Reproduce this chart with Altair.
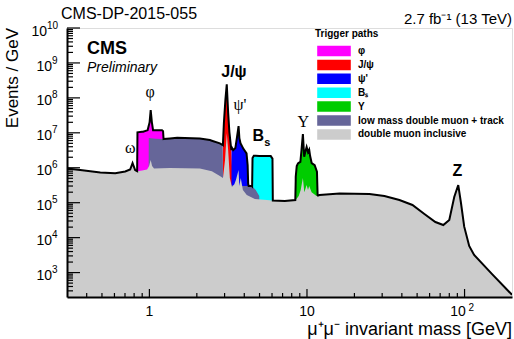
import altair as alt
import numpy as np
import pandas as pd

# ---- dimuon spectra: mass [GeV] and events / GeV per trigger path ----
incl_mass = [0.30, 0.364, 0.488, 0.607, 0.702, 0.755, 0.782, 0.812, 0.836, 0.899, 0.967, 0.996,
             1.019, 1.04, 1.07, 1.35, 2.09, 2.49, 2.80, 2.93, 3.02, 3.097, 3.16, 3.24, 3.34, 3.46,
             3.54, 3.68, 3.72, 3.80, 3.92, 4.15, 4.67, 6.07, 7.23, 8.48, 8.86, 9.12, 9.42, 9.62,
             9.95, 10.15, 10.33, 10.7, 11.5, 12.0, 16.1, 24.9, 31.0, 38.6, 46.7, 55.6, 65.3, 73.3,
             80.0, 86.0, 91.2, 94.9, 99.5, 107.0, 115.0, 149.0, 200.0]
incl_evt = [9.5e5, 8.6e5, 7.3e5, 7.0e5, 7.8e5, 8.9e5, 1.36e6, 8.6e5, 8.0e5, 8.3e5, 8.9e5, 1.12e6,
            1.66e6, 1.12e6, 9.5e5, 9.8e5, 9.5e5, 8.0e5, 5.8e5, 5.1e5, 1.66e6, 9.8e6, 3.2e6, 5.1e5,
            2.8e5, 3.4e5, 4.5e5, 8.6e5, 3.0e5, 5.1e5, 2.3e5, 1.66e5, 1.28e5, 1.16e5, 1.12e5, 1.19e5,
            1.55e5, 2.3e5, 5.1e5, 2.0e5, 3.2e5, 2.3e5, 3.0e5, 2.0e5, 1.55e5, 1.66e5, 1.83e5, 1.77e5,
            1.55e5, 1.19e5, 8.6e4, 4.75e4, 2.8e4, 2.3e4, 3.2e4, 1.46e5, 3.2e5, 9.8e4, 2.06e4, 5.8e3,
            3.2e3, 918, 231]

lowmass_mass = [0.984, 0.991, 1.09, 1.23, 1.50, 2.09, 2.42, 2.80, 2.92, 2.936, 3.97, 4.47, 4.73, 4.98, 5.01]
lowmass_evt = [1e4, 7.06e6, 6.8e6, 6.6e6, 7.2e6, 6.9e6, 6.2e6, 5.0e6, 4.5e6, 3.2e5, 3.0e5, 3.0e5, 2.3e5, 1.55e5, 1e4]

phi_mass = [0.834, 0.840, 0.912, 0.974, 1.003, 1.019, 1.037, 1.055, 1.203, 1.221, 1.231]
phi_evt = [1e4, 1.03e7, 1.08e7, 1.19e7, 2.0e7, 4.45e7, 2.0e7, 1.19e7, 1.19e7, 1.12e7, 1e4]

jpsi_mass = [2.906, 2.927, 2.97, 3.035, 3.097, 3.162, 3.218, 3.289, 3.314, 3.378, 3.396]
jpsi_evt = [1e4, 4.46e6, 1.89e7, 8.6e7, 2.46e8, 3.66e7, 1.05e7, 4.17e6, 3.2e6, 3.2e5, 1e4]

psi2_mass = [3.308, 3.323, 3.402, 3.512, 3.589, 3.68, 3.724, 3.789, 3.936, 4.135, 4.202, 4.233, 4.263]
psi2_evt = [1e4, 3.9e6, 3.2e6, 3.66e6, 7.06e6, 1.55e7, 7.06e6, 4.98e6, 3.58e6, 2.58e6, 1.19e6, 3.58e5, 1e4]

bs_mass = [4.487, 4.513, 4.60, 5.89, 6.04, 6.07]
bs_evt = [1e4, 1.89e6, 2.2e6, 2.16e6, 1.83e6, 1e4]

ups_mass = [8.43, 8.484, 8.61, 8.77, 9.08, 9.23, 9.42, 9.60, 9.75, 9.95, 10.15, 10.33, 10.47, 10.71,
            11.19, 11.57, 11.68, 11.74]
ups_evt = [1e4, 5.53e5, 1.12e6, 1.34e6, 1.48e6, 3.2e6, 9.2e6, 2.06e6, 2.81e6, 3.9e6, 2.81e6, 3.3e6,
           2.16e6, 1.36e6, 1.19e6, 7.7e5, 1.66e5, 1e4]

series_names = ["φ", "J/ψ", "ψ'", "Bₛ", "Υ", "low mass double muon + track", "double muon inclusive"]
series_colors = ["#ff00ff", "#ff0000", "#0000ff", "#00ffff", "#00cc00", "#666699", "#cccccc"]

# resonance annotations (mass, events / GeV)
greek_text = ["ω", "φ", "ψ'", "Υ"]
greek_mass = [0.755, 1.01, 3.75, 9.46]
greek_evt = [3.66e6, 1.46e8, 6.17e7, 2.02e7]

bold_text = ["J/ψ", "B", "Z"]
bold_mass = [3.44, 4.91, 89.9]
bold_evt = [5.4e8, 8.06e6, 8.05e5]

sub_text = ["s"]
sub_mass = [5.6]
sub_evt = [5.08e6]

# axis ticks and labels
y_decades = [3, 4, 5, 6, 7, 8, 9, 10]
x_major = [1, 10, 100]
x_minor = [0.4, 0.5, 0.6, 0.7, 0.8, 0.9, 2, 3, 4, 5, 6, 7, 8, 9, 20, 30, 40, 50, 60, 70, 80, 90]

Y_MIN = 200
W, H = 445, 269
SANS = "Liberation Sans"
SERIF = "Liberation Serif"

xs = alt.Scale(type="log", domain=[0.3, 200], nice=False)
ys = alt.Scale(type="log", domain=[Y_MIN, 1e10], nice=False)
x_axis = alt.Axis(labels=False, ticks=False, grid=False, title=None, domain=True,
                  domainColor="black", domainWidth=2, zindex=1)
y_axis = alt.Axis(labels=False, ticks=False, grid=False, title=None, domain=True,
                  domainColor="black", domainWidth=2, zindex=1)

color = alt.Color(
    "series:N",
    scale=alt.Scale(domain=series_names, range=series_colors),
    legend=alt.Legend(
        orient="none", legendX=248, legendY=1, title="Trigger paths",
        titleFont=SANS, titleFontSize=10, titleFontWeight="bold", titleColor="black",
        titlePadding=5, labelFont=SANS, labelFontSize=10, labelFontWeight="bold",
        labelColor="black", labelLimit=300,
        symbolType="M-2.4,-0.75H2.4V0.75H-2.4Z", symbolSize=196, symbolStrokeWidth=0,
        symbolOffset=12, labelOffset=17, rowPadding=0.9, padding=0,
    ),
)

spectra = [(phi_mass, phi_evt), (jpsi_mass, jpsi_evt), (psi2_mass, psi2_evt), (bs_mass, bs_evt),
           (ups_mass, ups_evt), (lowmass_mass, lowmass_evt), (incl_mass, incl_evt)]

layers = []
for (m, v), name in zip(spectra, series_names):
    df = pd.DataFrame({"mass": m, "evt": v, "base": Y_MIN, "series": name})
    layers.append(
        alt.Chart(df).mark_area(clip=True, opacity=1).encode(
            x=alt.X("mass:Q", scale=xs, axis=x_axis),
            y=alt.Y("evt:Q", scale=ys, axis=y_axis, stack=None),
            y2=alt.Y2("base:Q"),
            color=color,
        )
    )

# upper envelope of all paths (the black outline)
grid = np.unique(np.concatenate([np.log10(m) for m, _ in spectra]))
env = np.full(grid.shape, -np.inf)
for m, v in spectra:
    env = np.maximum(env, np.interp(grid, np.log10(m), np.log10(v), left=-np.inf, right=-np.inf))
env_df = pd.DataFrame({"mass": 10 ** grid, "evt": 10 ** env})
layers.append(
    alt.Chart(env_df).mark_line(color="black", strokeWidth=2, clip=True).encode(
        x=alt.X("mass:Q", scale=xs), y=alt.Y("evt:Q", scale=ys)
    )
)

# inward ticks
y_major = [10.0 ** d for d in y_decades]
y_minor = [k * 10.0 ** d for d in range(2, 10) for k in range(2, 10) if 300 <= k * 10.0 ** d < 1e10]
layers += [
    alt.Chart(pd.DataFrame({"v": y_major})).mark_rule(color="black", strokeWidth=1.2).encode(
        y=alt.Y("v:Q", scale=ys), x=alt.value(0), x2=alt.value(13)),
    alt.Chart(pd.DataFrame({"v": y_minor})).mark_rule(color="black", strokeWidth=1.2).encode(
        y=alt.Y("v:Q", scale=ys), x=alt.value(0), x2=alt.value(6)),
    alt.Chart(pd.DataFrame({"v": x_major})).mark_rule(color="black", strokeWidth=1.2).encode(
        x=alt.X("v:Q", scale=xs), y=alt.value(H), y2=alt.value(H - 8)),
    alt.Chart(pd.DataFrame({"v": x_minor})).mark_rule(color="black", strokeWidth=1.2).encode(
        x=alt.X("v:Q", scale=xs), y=alt.value(H), y2=alt.value(H - 4)),
]

# y tick labels: "10" with a raised exponent
ylab = pd.DataFrame({"v": [10.0 ** d for d in y_decades], "exp": [str(d) for d in y_decades]})
ylab["wide"] = ylab["exp"].str.len() > 1
for wide, xpos in [(False, -15), (True, -20)]:
    sub = ylab[ylab["wide"] == wide]
    layers += [
        alt.Chart(sub).mark_text(font=SANS, fontSize=14, align="right", baseline="middle", dy=3.6,
                                 color="black").encode(
            y=alt.Y("v:Q", scale=ys), x=alt.value(xpos), text=alt.value("10")),
        alt.Chart(sub).mark_text(font=SANS, fontSize=10, align="left", baseline="middle", dy=-2.4,
                                 color="black").encode(
            y=alt.Y("v:Q", scale=ys), x=alt.value(xpos), text="exp:N"),
    ]

# x tick labels
xlab = pd.DataFrame({"v": x_major, "txt": ["1", "10", "10"], "exp": ["", "", "2"]})
layers += [
    alt.Chart(xlab[xlab["exp"] == ""]).mark_text(font=SANS, fontSize=14, align="center",
                                                 baseline="middle", color="black").encode(
        x=alt.X("v:Q", scale=xs), y=alt.value(H + 15), text="txt:N"),
    alt.Chart(xlab[xlab["exp"] != ""]).mark_text(font=SANS, fontSize=14, align="center", dx=-6.5,
                                                 baseline="middle", color="black").encode(
        x=alt.X("v:Q", scale=xs), y=alt.value(H + 15), text="txt:N"),
    alt.Chart(xlab[xlab["exp"] != ""]).mark_text(font=SANS, fontSize=10, align="left", dx=4,
                                                 baseline="middle", color="black").encode(
        x=alt.X("v:Q", scale=xs), y=alt.value(H + 11), text="exp:N"),
]

# resonance names
def notes(texts, masses, evts, **style):
    df = pd.DataFrame({"t": texts, "mass": masses, "evt": evts})
    return alt.Chart(df).mark_text(align="center", baseline="middle", color="black", **style).encode(
        x=alt.X("mass:Q", scale=xs), y=alt.Y("evt:Q", scale=ys), text="t:N")

layers += [
    notes(greek_text, greek_mass, greek_evt, font=SERIF, fontSize=16),
    notes(bold_text, bold_mass, bold_evt, font=SANS, fontSize=16, fontWeight="bold"),
    notes(sub_text, sub_mass, sub_evt, font=SANS, fontSize=11, fontWeight="bold"),
]

# titles and header text
def label(txt, x, y, **style):
    return alt.Chart(pd.DataFrame({"t": [txt]})).mark_text(color="black", baseline="middle", **style).encode(
        x=alt.value(x), y=alt.value(y), text="t:N")

layers += [
    label("CMS-DP-2015-055", -6, -14, font=SANS, fontSize=16, align="left"),
    label("2.7 fb⁻¹ (13 TeV)", W, -9, font=SANS, fontSize=15, align="right"),
    label("CMS", 20, 20.5, font=SANS, fontSize=18, fontWeight="bold", align="left"),
    label("Preliminary", 20, 40, font=SANS, fontSize=14, fontStyle="italic", align="left"),
    label("Events / GeV", -54, 0, font=SANS, fontSize=17, align="right", angle=270),
    label("μ⁺μ⁻ invariant mass [GeV]", W, 301.5, font=SANS, fontSize=18, align="right"),
]

chart = alt.layer(*layers).properties(
    width=W, height=H,
    autosize=alt.AutoSizeParams(type="none"),
    padding={"left": 67, "top": 28, "right": 2, "bottom": 42},
).configure_view(stroke="black", strokeWidth=1.5).configure(background="white")

chart.save("out.html", embed_options={"renderer": "svg", "actions": False})
